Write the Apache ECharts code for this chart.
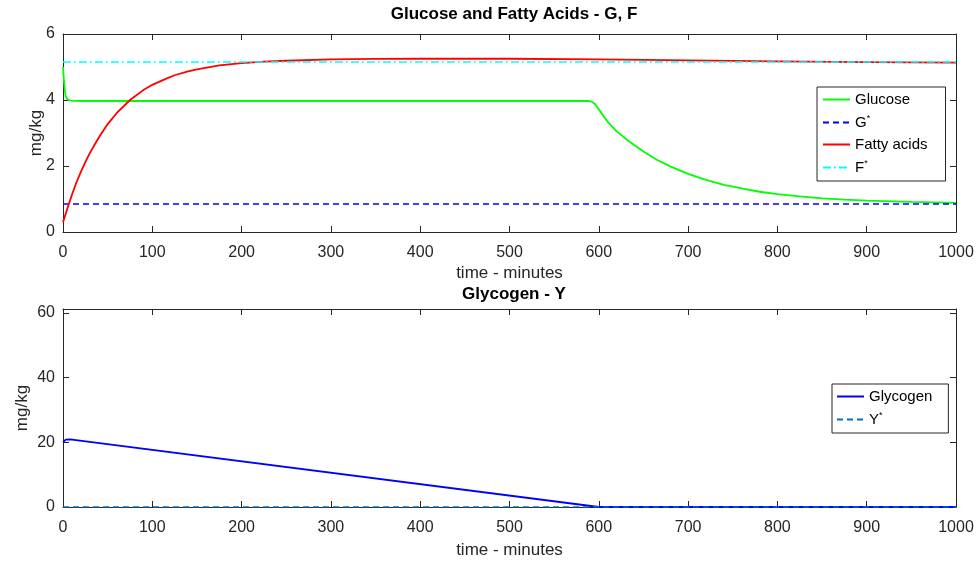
<!DOCTYPE html>
<html>
<head>
<meta charset="utf-8">
<script src="https://cdn.jsdelivr.net/npm/echarts@6/dist/echarts.min.js"></script>
<style>
  html, body { margin: 0; padding: 0; background: #fff; }
  #chart { width: 978px; height: 561px; }
</style>
</head>
<body>
<div id="chart"></div>
<script>
// values: [time in minutes, value]
const glucose = [
  [0, 5.0], [1, 4.6], [2, 4.3], [3, 4.12], [5, 4.02], [8, 3.98], [20, 3.97],
  [300, 3.97], [588, 3.97], [592, 3.95], [596, 3.87], [600, 3.72], [605, 3.52],
  [610, 3.34], [620, 3.05], [632, 2.79], [640, 2.63], [650, 2.44], [665, 2.19],
  [680, 1.99], [700, 1.76], [720, 1.58], [740, 1.43], [760, 1.32], [780, 1.22],
  [800, 1.15], [825, 1.08], [850, 1.02], [875, 0.98], [900, 0.95], [950, 0.91],
  [1000, 0.88]
];
const gStar = [[0, 0.85], [1000, 0.85]];
const fattyAcids = [
  [0, 0.3], [5, 0.72], [10, 1.13], [15, 1.5], [20, 1.82], [25, 2.12], [30, 2.39],
  [35, 2.63], [41, 2.9], [50, 3.27], [60, 3.6], [75, 4.0], [90, 4.3], [100, 4.46],
  [115, 4.64], [125, 4.75], [140, 4.87], [150, 4.93], [175, 5.05], [200, 5.12],
  [225, 5.16], [250, 5.19], [300, 5.23], [350, 5.245], [400, 5.25], [500, 5.25],
  [600, 5.23], [700, 5.2], [800, 5.17], [900, 5.15], [1000, 5.13]
];
const fStar = [[0, 5.15], [1000, 5.15]];
const glycogen = [[0, 20.0], [3, 20.8], [8, 20.9], [600, 0.0], [1000, 0.0]];
const yStar = [[0, 0], [1000, 0]];

const ink = "#262626";
const font = "'Liberation Sans', Arial, Helvetica, sans-serif";

function xAxes(gridIndex, gap) {
  return [
    {
      gridIndex: gridIndex, type: "value", min: 0, max: 1000, interval: 100,
      name: "time - minutes", nameLocation: "middle", nameGap: gap,
      nameTextStyle: { color: ink, fontSize: 17, fontFamily: font },
      axisLine: { show: true, onZero: false, lineStyle: { color: ink } },
      axisTick: { inside: true, length: 6, lineStyle: { color: ink } },
      axisLabel: { color: ink, fontSize: 16, fontFamily: font, margin: 13, formatter: v => String(v) },
      splitLine: { show: false }
    },
    {
      gridIndex: gridIndex, type: "value", min: 0, max: 1000, interval: 100, position: "top",
      axisLine: { show: true, onZero: false, lineStyle: { color: ink } },
      axisTick: { inside: true, length: 6, lineStyle: { color: ink } },
      axisLabel: { show: false }, splitLine: { show: false }
    }
  ];
}

function yAxes(gridIndex, max, interval, gap) {
  return [
    {
      gridIndex: gridIndex, type: "value", min: 0, max: max, interval: interval,
      name: "mg/kg", nameLocation: "middle", nameGap: gap, nameRotate: 90, nameMoveOverlap: false,
      nameTextStyle: { color: ink, fontSize: 17, fontFamily: font },
      axisLine: { show: true, onZero: false, lineStyle: { color: ink } },
      axisTick: { show: true, inside: true, length: 6, lineStyle: { color: ink } },
      axisLabel: { color: ink, fontSize: 16, fontFamily: font, margin: 8, showMaxLabel: max % interval === 0 },
      splitLine: { show: false }
    },
    {
      gridIndex: gridIndex, type: "value", min: 0, max: max, interval: interval, position: "right",
      axisLine: { show: true, onZero: false, lineStyle: { color: ink } },
      axisTick: { show: true, inside: true, length: 6, lineStyle: { color: ink } },
      axisLabel: { show: false }, splitLine: { show: false }
    }
  ];
}

function line(name, data, xi, yi, color, type, width) {
  return {
    name: name, type: "line", data: data, xAxisIndex: xi, yAxisIndex: yi,
    symbol: "none", showSymbol: false, smooth: false,
    animation: false,
    lineStyle: { color: color, width: width || 1.6, type: type || "solid" },
    itemStyle: { color: color }
  };
}

const legendText = {
  color: "#000", fontSize: 15, fontFamily: font,
  rich: {
    n: { fontSize: 15, fontFamily: font, color: "#000" },
    s: { fontSize: 9, fontFamily: font, color: "#000", verticalAlign: "top", padding: [0, 0, 8, 0] }
  }
};
function legendFormat(name) {
  if (name.endsWith("*")) return "{n|" + name.slice(0, -1) + "}{s|*}";
  return "{n|" + name + "}";
}

const legendBase = {
  orient: "vertical", itemWidth: 27, itemHeight: 10, itemGap: 7,
  backgroundColor: "#fff", borderColor: ink, borderWidth: 1,
  itemStyle: { opacity: 0 },
  textStyle: legendText, formatter: legendFormat
};

const option = {
  backgroundColor: "#fff",
  animation: false,
  title: [
    { text: "Glucose and Fatty Acids - G, F", left: 509, top: 1, textAlign: "center",
      textStyle: { color: "#000", fontSize: 17, fontWeight: "bold", fontFamily: font } },
    { text: "Glycogen - Y", left: 509, top: 281, textAlign: "center",
      textStyle: { color: "#000", fontSize: 17, fontWeight: "bold", fontFamily: font } }
  ],
  grid: [
    { left: 63, right: 22, top: 34, height: 198 },
    { left: 63, right: 22, top: 309, height: 198 }
  ],
  xAxis: [].concat(xAxes(0, 33), xAxes(1, 35)),
  yAxis: [].concat(yAxes(0, 6, 2, 18), yAxes(1, 61.2, 20, 32)),
  legend: [
    Object.assign({}, legendBase, {
      data: ["Glucose", "G*", "Fatty acids", "F*"],
      left: 817, top: 87, padding: [5, 18, 6, 5]
    }),
    Object.assign({}, legendBase, {
      data: ["Glycogen", "Y*"],
      left: 832, top: 384, padding: [5, 16, 6, 4]
    })
  ],
  series: [
    line("Glucose", glucose, 0, 0, "#00ff00", "solid", 1.8),
    line("G*", gStar, 0, 0, "#0000ff", [6, 4], 1.6),
    line("Fatty acids", fattyAcids, 0, 0, "#ff0000", "solid", 1.8),
    line("F*", fStar, 0, 0, "#00ffff", [8, 3, 2, 3], 1.6),
    line("Glycogen", glycogen, 2, 2, "#0000ff", "solid", 1.8),
    line("Y*", yStar, 2, 2, "#0072bd", [6, 4], 1.6)
  ]
};

const chart = echarts.init(document.getElementById("chart"), null, { renderer: "canvas" });
chart.setOption(option);
</script>
</body>
</html>
